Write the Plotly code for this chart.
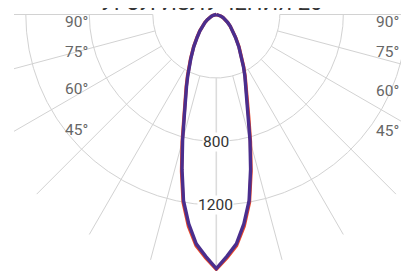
import numpy as np
import plotly.graph_objects as go

# ---------------- data ----------------
title_text = "УГОЛ ИЗЛУЧЕНИЯ 20°"
angles = [0, 2.5, 5, 7.5, 10, 12.5, 15, 17.5, 20, 22.5, 25, 27.5, 30, 35, 40, 45, 50, 55, 60, 65, 70, 75, 80, 85, 90]
c0_c180 = [1605, 1535, 1462, 1345, 1203, 1012, 832, 680, 568, 496, 430, 374, 325, 250, 190, 148, 115, 88, 65, 47, 32, 20, 11, 5, 0]
c90_c270 = [1600, 1525, 1450, 1330, 1190, 998, 820, 670, 560, 490, 425, 370, 321, 247, 187, 146, 114, 87, 65, 47, 32, 20, 11, 5, 0]
ring_values = [400, 800, 1200]
ring_labels = ["800", "1200"]
spoke_angles = [-90, -75, -60, -45, -30, -15, 0, 15, 30, 45, 60, 75, 90]
spoke_r = [400, 1600]
angle_labels = ["90°", "75°", "60°", "45°"]

# ---------------- geometry / style ----------------
PAGE_OFF = 8          # default body margin of the html page
W, H = 409 - PAGE_OFF, 271 - PAGE_OFF
ML = 14 - PAGE_OFF
k = 0.15875           # px per cd
ox, oy = 216.3 - PAGE_OFF, 14.5 - PAGE_OFF   # pole position inside the figure
x_range = [(ML - ox) / k, (W - ox) / k]
y_range = [-(H - oy) / k, oy / k]

def pol(r, a_deg):
    a = np.radians(a_deg)
    return r * np.sin(a), -r * np.cos(a)

def full_curve(vals):
    th = [-a for a in angles[::-1]] + angles[1:]
    rr = vals[::-1] + vals[1:]
    return pol(np.array(rr, float), np.array(th, float))

fig = go.Figure()

# rings
for rv in ring_values:
    th = np.linspace(-90, 90, 361)
    x, y = pol(rv, th)
    fig.add_trace(go.Scatter(x=x, y=y, mode="lines", line=dict(color="#d2d2d2", width=1),
                             hoverinfo="skip", showlegend=False))

# spokes
sx, sy = [], []
for a in spoke_angles:
    if a == 0:
        continue
    x, y = pol(np.array(spoke_r, float), a)
    sx += list(x) + [None]
    sy += list(y) + [None]
fig.add_trace(go.Scatter(x=sx, y=sy, mode="lines", line=dict(color="#d2d2d2", width=1),
                         hoverinfo="skip", showlegend=False))
x, y = pol(np.array(spoke_r, float), 0)
fig.add_trace(go.Scatter(x=x, y=y, mode="lines", line=dict(color="#dcdcdc", width=1.6),
                         hoverinfo="skip", showlegend=False))

# curves
x, y = full_curve(c0_c180)
fig.add_trace(go.Scatter(x=x, y=y, mode="lines", name="C0-C180",
                         line=dict(color="#e8472a", width=3.4), showlegend=False))
x, y = full_curve(c90_c270)
fig.add_trace(go.Scatter(x=x, y=y, mode="lines", name="C90-C270",
                         line=dict(color="#4a2e8e", width=3.4), showlegend=False))

# ring labels
for lab in ring_labels:
    fig.add_annotation(x=0, y=-float(lab), xref="x", yref="y", text=lab, showarrow=False,
                       font=dict(family="Roboto", size=15.5, color="#333333"),
                       bgcolor="white", borderpad=0, xshift=-0.5)

# angle labels (positions given in page pixels)
def px2paper(px, py):
    return (px - PAGE_OFF - ML) / (W - ML), 1 - (py - PAGE_OFF) / H

left_pos = [(89.5, 22.5), (89.5, 51.5), (89.5, 89.5), (89.5, 129.5)]
right_pos = [(400.5, 22.5), (400.5, 52.5), (400.5, 91), (400.5, 131)]
for lab, (lx, ly), (rx, ry) in zip(angle_labels, left_pos, right_pos):
    for px, py in ((lx, ly), (rx, ry)):
        xp, yp = px2paper(px, py)
        fig.add_annotation(x=xp, y=yp, xref="paper", yref="paper", text=lab, showarrow=False,
                           xanchor="right", yanchor="middle",
                           font=dict(family="Roboto", size=15.5, color="#666666"))

# title (mostly above the visible top edge, as in the reference)
fig.add_annotation(x=(216 - PAGE_OFF - ML) / (W - ML), y=1, xref="paper", yref="paper",
                   text=title_text, showarrow=False, xanchor="center", yanchor="middle",
                   yshift=5.5, font=dict(family="Roboto", size=22, color="#333333"))

fig.update_layout(
    width=W, height=H,
    margin=dict(l=ML, r=0, t=0, b=0),
    paper_bgcolor="white", plot_bgcolor="white",
    xaxis=dict(range=x_range, visible=False, fixedrange=True),
    yaxis=dict(range=y_range, visible=False, fixedrange=True),
    showlegend=False,
)

fig.write_html("out.html")
